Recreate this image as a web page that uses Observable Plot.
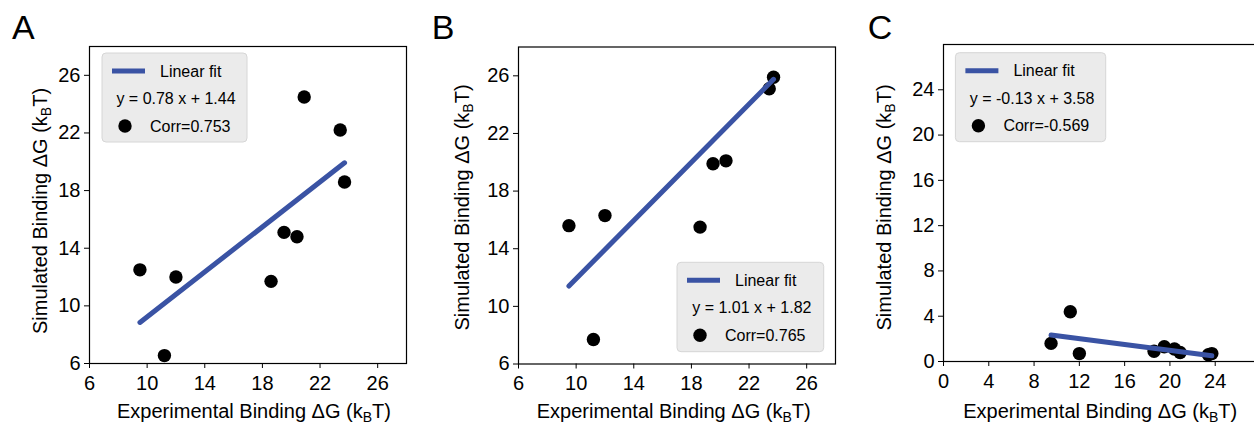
<!DOCTYPE html>
<html><head><meta charset="utf-8">
<script src="https://cdn.jsdelivr.net/npm/d3@7"></script>
<script src="https://cdn.jsdelivr.net/npm/@observablehq/plot@0.6"></script>
<style>
html,body{margin:0;padding:0;background:#fff;}
#wrap{position:relative;width:1254px;height:425px;overflow:hidden;}
#wrap svg{position:absolute;top:0;}
</style></head><body><div id="wrap"></div>
<script>
// ---- data ----
const experimental = [9.5, 11.2, 12.0, 18.6, 19.5, 20.4, 20.9, 23.4, 23.7];
const simulatedA = [12.5, 6.55, 12.0, 11.7, 15.1, 14.8, 24.5, 22.2, 18.6];
const simulatedB = [15.6, 7.7, 16.3, 15.5, 19.9, 20.1, null, 25.1, 25.9];
const simulatedC = [1.6, 4.4, 0.7, 0.9, 1.3, 1.1, 0.8, 0.6, 0.7];
const slopes = [0.78, 1.01, -0.13];
const intercepts = [1.44, 1.82, 3.58];
const correlations = ["0.753", "0.765", "-0.569"];
const panelLetters = ["A", "B", "C"];
const ticksAB = [6, 10, 14, 18, 22, 26];
const ticksC = [0, 4, 8, 12, 16, 20, 24];
const domainAB = [6, 28];
const domainC = [0, 28];
const xLabel = ["Experimental Binding ΔG (k", "B", "T)"];
const yLabel = ["Simulated Binding ΔG (k", "B", "T)"];

// ---- layout (page coordinates) ----
const FONT = '"Liberation Sans", Arial, Helvetica, sans-serif';
const BLUE = "#3a53a4";
const SIZE = 317;
const panels = [
  {sim: simulatedA, domain: domainAB, ticks: ticksAB, frameLeft: 89, frameTop: 46,
   letterX: 12, xLabelX: 254, yLabelX: 46.5, yLabelY: 211, legend: [102, 53, 145, 89]},
  {sim: simulatedB, domain: domainAB, ticks: ticksAB, frameLeft: 518.3, frameTop: 46.5,
   letterX: 432, xLabelX: 674, yLabelX: 468.8, yLabelY: 207.5, legend: [677.3, 262.3, 146.7, 89.4]},
  {sim: simulatedC, domain: domainC, ticks: ticksC, frameLeft: 943.3, frameTop: 44,
   letterX: 868, xLabelX: 1100.5, yLabelX: 890.8, yLabelY: 207.5, legend: [955.7, 52.7, 150.3, 89]}
];

const wrap = document.getElementById("wrap");

function subText(sel, parts, big, small) {
  sel.append("tspan").text(parts[0]);
  sel.append("tspan").attr("dy", 4).attr("font-size", small).text(parts[1]);
  sel.append("tspan").attr("dy", -4).attr("font-size", big).text(parts[2]);
}

panels.forEach((p, i) => {
  const svgLeft = p.frameLeft - 89;
  const ml = p.frameLeft - svgLeft;
  const W = 420, H = 425;
  const pts = experimental.map((x, j) => ({x, y: p.sim[j]})).filter(d => d.y != null);
  const xs = d3.extent(experimental);
  const fit = xs.map(x => ({x, y: slopes[i] * x + intercepts[i]}));
  const svg = Plot.plot({
    width: W, height: H,
    marginLeft: ml, marginTop: p.frameTop,
    marginRight: W - ml - SIZE, marginBottom: H - p.frameTop - SIZE,
    x: {domain: p.domain},
    y: {domain: p.domain},
    style: {fontFamily: FONT, fontSize: "20px", color: "black", background: "transparent", overflow: "visible"},
    marks: [
      Plot.axisX({ticks: p.ticks, tickSize: 5, tickPadding: 7, label: null, fontSize: 20, stroke: "black"}),
      Plot.axisY({ticks: p.ticks, tickSize: 5, tickPadding: 4, label: null, fontSize: 20, stroke: "black"}),
      Plot.dot(pts, {x: "x", y: "y", r: 6.7, fill: "black"}),
      Plot.line(fit, {x: "x", y: "y", stroke: BLUE, strokeWidth: 5, strokeLinecap: "round"}),
      Plot.frame({stroke: "black", strokeWidth: 1.2})
    ]
  });
  svg.style.left = svgLeft + "px";
  wrap.appendChild(svg);
  const g = d3.select(svg).append("g").attr("font-family", FONT).attr("fill", "black").attr("text-anchor", "start");
  const X = v => v - svgLeft;
  // panel letter
  g.append("text").attr("x", X(p.letterX)).attr("y", 39).attr("font-size", 34).text(panelLetters[i]);
  // x label
  const xl = g.append("text").attr("x", X(p.xLabelX)).attr("y", 418).attr("text-anchor", "middle").attr("font-size", 20);
  subText(xl, xLabel, 20, 14);
  // y label
  const yl = g.append("text").attr("transform", `translate(${X(p.yLabelX)},${p.yLabelY}) rotate(-90)`)
    .attr("text-anchor", "middle").attr("font-size", 20);
  subText(yl, yLabel, 20, 14);
  // legend
  const [bx0, by, bw, bh] = p.legend;
  const bx = X(bx0);
  const lg = g.append("g").attr("font-size", 16);
  lg.append("rect").attr("x", bx).attr("y", by).attr("width", bw).attr("height", bh)
    .attr("rx", 4).attr("fill", "#ebebeb").attr("stroke", "#d6d6d6").attr("stroke-width", 1);
  lg.append("line").attr("x1", bx + 10).attr("x2", bx + 43).attr("y1", by + 18).attr("y2", by + 18)
    .attr("stroke", BLUE).attr("stroke-width", 5);
  lg.append("text").attr("x", bx + 58).attr("y", by + 23.5).text("Linear fit");
  lg.append("text").attr("x", bx + bw / 2 + 1.5).attr("y", by + 51).attr("text-anchor", "middle")
    .text(`y = ${slopes[i].toFixed(2)} x + ${intercepts[i].toFixed(2)}`);
  lg.append("circle").attr("cx", bx + 23).attr("cy", by + 73).attr("r", 6.7).attr("fill", "black");
  lg.append("text").attr("x", bx + 48).attr("y", by + 78.5).text(`Corr=${correlations[i]}`);
});
</script></body></html>
